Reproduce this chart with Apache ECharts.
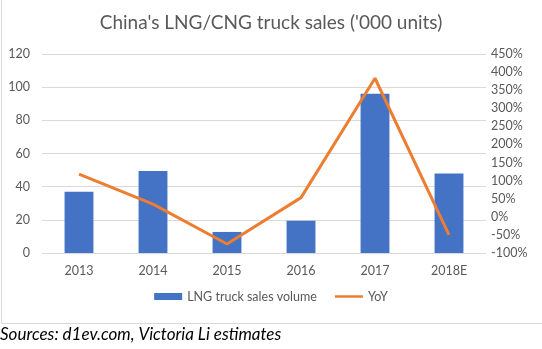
<!DOCTYPE html>
<html><head><meta charset="utf-8">
<script src="https://cdn.jsdelivr.net/npm/echarts@6/dist/echarts.min.js"></script>
<style>html,body{margin:0;padding:0;background:#fff}#c{width:542px;height:349px}</style>
</head><body><div id="c"></div>
<script>
var categories = ['2013', '2014', '2015', '2016', '2017', '2018E'];
var salesVolume = [37, 49.5, 12.7, 19.5, 96, 48];
var yoy = [118, 35, -75, 53, 383, -50];
var title = "China's LNG/CNG truck sales ('000 units)";
var source = 'Sources: d1ev.com, Victoria Li estimates';

var chart = echarts.init(document.getElementById('c'), null, {renderer: 'canvas'});
var font = 'Lato, "Open Sans", sans-serif';
var lineIcon = 'path://M0,0 L0.01,0 L0.01,0.01 Z M0,2.2 L28,2.2 L28,4.8 L0,4.8 Z M27.99,7 L28,7 L28,6.99 Z';
chart.setOption({
  animation: false,
  textStyle: {fontFamily: font},
  title: {text: title, left: 'center', top: 8,
    textStyle: {fontFamily: font, fontSize: 19, fontWeight: 'normal', color: '#595959'}},
  grid: {left: 42, right: 56, top: 54, bottom: 96},
  legend: {bottom: 41, left: 'center', itemGap: 18, itemWidth: 28, itemHeight: 7,
    textStyle: {fontFamily: font, fontSize: 12.5, color: '#595959'},
    data: [{name: 'LNG truck sales volume', icon: 'rect'}, {name: 'YoY', icon: lineIcon}]},
  xAxis: {type: 'category', data: categories,
    axisLine: {show: false}, axisTick: {show: false},
    axisLabel: {margin: 11, fontSize: 12.5, color: '#595959', fontFamily: font}},
  yAxis: [
    {type: 'value', min: 0, max: 120, interval: 20,
      axisLabel: {margin: 12, fontSize: 12.5, color: '#595959', fontFamily: font},
      splitLine: {lineStyle: {color: '#d9d9d9', width: 1}},
      axisLine: {show: false}, axisTick: {show: false}},
    {type: 'value', min: -100, max: 450, interval: 50,
      axisLabel: {margin: 5, fontSize: 12.5, color: '#595959', fontFamily: font, formatter: '{value}%'},
      splitLine: {show: false}, axisLine: {show: false}, axisTick: {show: false}}
  ],
  series: [
    {name: 'LNG truck sales volume', type: 'bar', data: salesVolume, barWidth: '39%',
      itemStyle: {color: '#4472c4'}},
    {name: 'YoY', type: 'line', yAxisIndex: 1, data: yoy, symbol: 'none',
      lineStyle: {color: '#ed7d31', width: 3}, itemStyle: {color: '#ed7d31'}}
  ],
  graphic: [
    {type: 'rect', shape: {x: 1.5, y: -2, width: 560, height: 325.5},
      style: {fill: 'none', stroke: '#d9d9d9', lineWidth: 1}, silent: true},
    {type: 'text', left: 0, top: 326,
      style: {text: source, font: 'italic 17px ' + font, fill: '#000'}}
  ]
});
</script></body></html>
